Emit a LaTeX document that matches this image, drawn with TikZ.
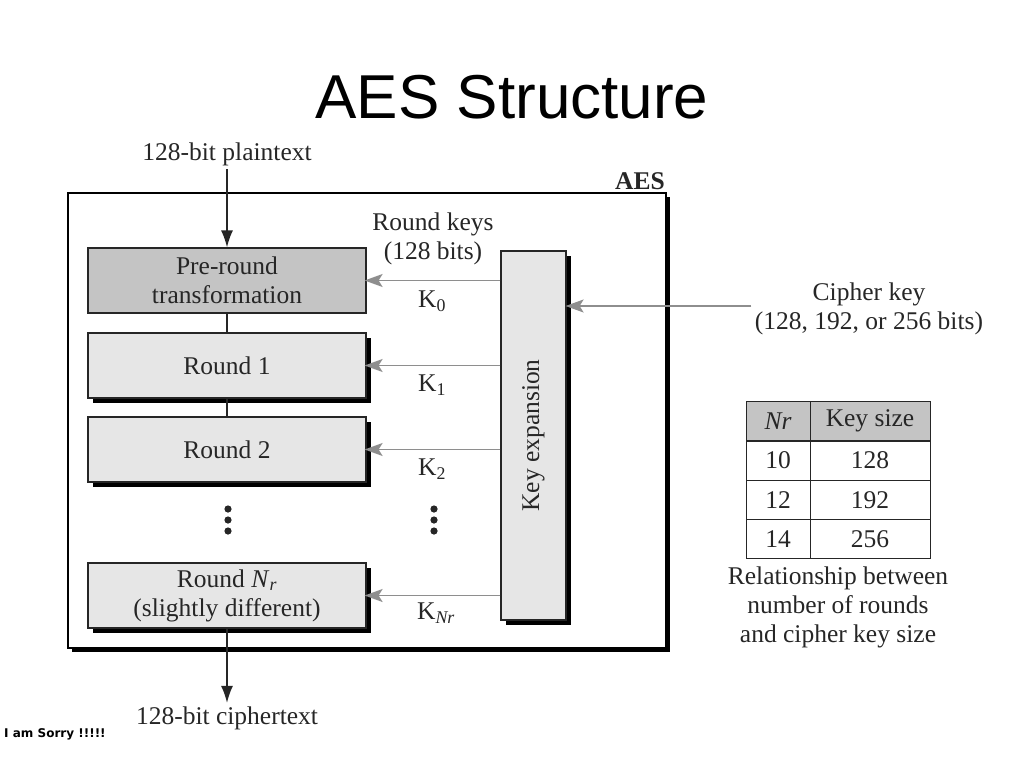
\documentclass[tikz,border=0pt]{standalone}
\usepackage{fontspec}
\setmainfont{Liberation Serif}
\newfontfamily\titlefont{Liberation Sans}
\newfontfamily\sorryfont{DejaVu Sans}
\usepackage{tikz}
\usetikzlibrary{arrows.meta,positioning,shadows}
\definecolor{inkgray}{HTML}{262626}
\definecolor{arrowgray}{HTML}{8E8E8E}
\definecolor{darkfill}{HTML}{C4C4C4}
\definecolor{lightfill}{HTML}{E6E6E6}
\newcommand{\bodyfont}{\fontsize{25.5}{29}\selectfont}
\newcommand{\sub}[1]{\textsubscript{#1}}
\tikzset{
  hardshadow/.style={general shadow={fill=black,shadow xshift=#1,shadow yshift=-#1}},
  hardshadow/.default=5pt,
  roundbox/.style={rectangle,draw=inkgray,line width=1.2pt,fill=#1,
    minimum width=278pt,minimum height=65pt,align=center,font=\bodyfont,text=inkgray},
  roundbox/.default=lightfill,
  cell/.style={rectangle,draw=inkgray,line width=1pt,minimum height=39pt,
    font=\bodyfont,text=inkgray,inner sep=0pt},
  label/.style={align=center,font=\bodyfont,text=inkgray},
  flow/.style={-{Latex[length=17pt,width=12pt]},line width=1.6pt,draw=inkgray},
  keyarrow/.style={-{Stealth[length=18pt,width=13pt,inset=4pt]},line width=1.6pt,draw=arrowgray}
}

\begin{document}
\begin{tikzpicture}[x=1pt,y=-1pt]
\useasboundingbox (0,0) rectangle (1024,768);

% title
\node[font=\titlefont\fontsize{62}{66}\selectfont] (title) at (512,97) {AES Structure};

% outer AES box
\node[rectangle,draw=black,line width=2pt,fill=white,hardshadow=4pt,
  minimum width=598pt,minimum height=455pt] (aes) at (367,420.5) {};
\node[label,font=\bodyfont\bfseries,anchor=south east,inner sep=2pt] (aeslabel) at (aes.north east) {AES};

% round blocks
\node[roundbox=darkfill] (pre) at (227,280.5) {Pre-round\\transformation};
\node[roundbox,hardshadow] (r1) at (227,365.5) {Round 1};
\node[roundbox,hardshadow] (r2) at (227,449.5) {Round 2};
\node[roundbox,hardshadow] (rn) at (227,595.5) {Round \textit{N}\sub{\textit{r}}\\(slightly different)};

% key expansion
\node[rectangle,draw=inkgray,line width=1.2pt,fill=lightfill,hardshadow,
  minimum width=65pt,minimum height=369pt] (keyexp) at (533.5,435.5) {};
\node[label,rotate=90] (keylabel) at (keyexp.center) {Key expansion};

% input / output
\node[label] (plain) at (227,154) {128-bit plaintext};
\node[label] (cipher) at (227,718) {128-bit ciphertext};
\draw[flow] (plain) -- (pre);
\draw[line width=1.4pt,draw=inkgray] (pre) -- (r1);
\draw[line width=1.4pt,draw=inkgray] (r1) -- (r2);
\draw[flow] (rn) -- (cipher);

% round keys
\node[label] (rkeys) at (433,239) {Round keys\\(128 bits)};
\draw[keyarrow,shorten >=-2pt] (keyexp.west |- pre.east) -- (pre.east);
\draw[keyarrow,shorten >=-2pt] (keyexp.west |- r1.east) -- (r1.east);
\draw[keyarrow,shorten >=-2pt] (keyexp.west |- r2.east) -- (r2.east);
\draw[keyarrow,shorten >=-2pt] (keyexp.west |- rn.east) -- (rn.east);
\node[label] (k0) at (432,301) {K\sub{0}};
\node[label] (k1) at (432,385) {K\sub{1}};
\node[label] (k2) at (432,469) {K\sub{2}};
\node[label] (knr) at (436,613) {K\sub{\textit{Nr}}};

% dots
\foreach \dx in {228,434}
  \foreach \dy in {509,520,531}
    \fill[inkgray] (\dx,\dy) circle (3.6pt);

% cipher key
\node[label] (ckey) at (869,309) {Cipher key\\(128, 192, or 256 bits)};
\draw[keyarrow,shorten >=-1pt] ([yshift=3pt]ckey.west) -- ([yshift=3pt]ckey.west -| keyexp.east);

% table
\node[cell,fill=darkfill,minimum width=64pt] (hnr) at (778,421) {\itshape Nr};
\node[cell,fill=darkfill,minimum width=120pt] (hks) at (870,421) {Key size};
\node[cell,minimum width=64pt] (n10) at (778,460.5) {10};
\node[cell,minimum width=120pt] (k128) at (870,460.5) {128};
\node[cell,minimum width=64pt] (n12) at (778,500) {12};
\node[cell,minimum width=120pt] (k192) at (870,500) {192};
\node[cell,minimum width=64pt] (n14) at (778,539) {14};
\node[cell,minimum width=120pt] (k256) at (870,539) {256};
\node[label] (caption) at (838,607) {Relationship between\\number of rounds\\and cipher key size};

% footer
\node[font=\sorryfont\bfseries\fontsize{12}{14}\selectfont,anchor=west,inner sep=0pt] (sorry) at (4,734) {I am Sorry !!!!!};
\end{tikzpicture}
\end{document}
